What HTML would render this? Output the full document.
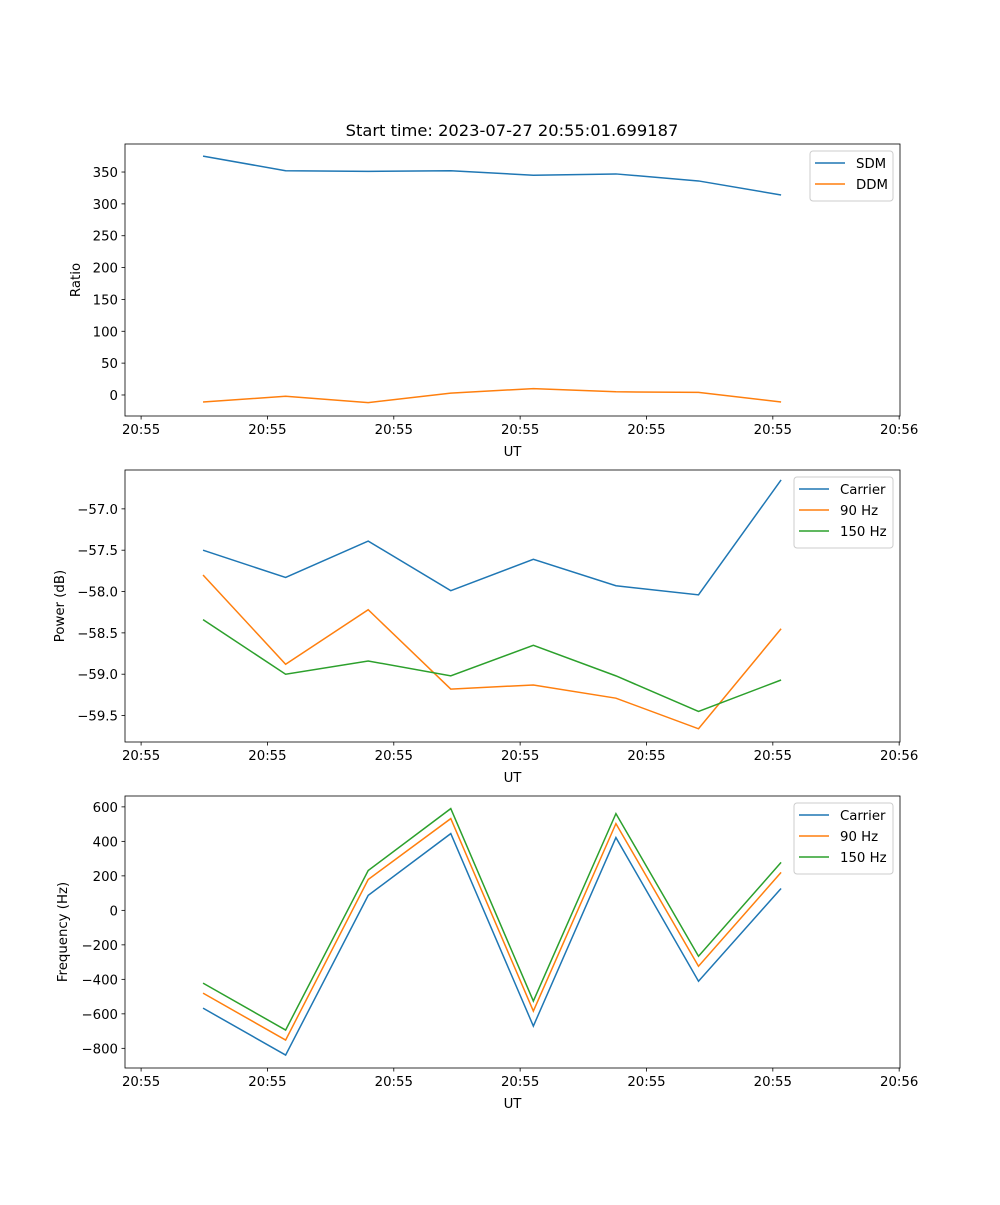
<!DOCTYPE html>
<html><head><meta charset="utf-8"><style>
body{margin:0;background:#fff}
svg text{font-family:"DejaVu Sans","Liberation Sans",sans-serif;fill:#000}
</style></head><body>
<svg id="fig" width="1000" height="1200" xmlns="http://www.w3.org/2000/svg"></svg>
<script>
const xIndex=[0,1,2,3,4,5,6,7];
const xTickPos=[-0.75,0.78,2.31,3.84,5.37,6.90,8.43];
const xTickLabels=["20:55","20:55","20:55","20:55","20:55","20:55","20:56"];
const sdm=[375,352,351,352,345,347,336,314];
const ddm=[-11,-2,-12,3,10,5,4,-11];
const ratioTicks=[0,50,100,150,200,250,300,350];
const pCarrier=[-57.5,-57.83,-57.39,-57.99,-57.61,-57.93,-58.04,-56.65];
const p90=[-57.80,-58.88,-58.22,-59.18,-59.13,-59.29,-59.66,-58.45];
const p150=[-58.34,-59.0,-58.84,-59.02,-58.65,-59.02,-59.45,-59.07];
const powerTicks=[-59.5,-59.0,-58.5,-58.0,-57.5,-57.0];
const fCarrier=[-567,-839,87,445,-671,422,-411,127];
const f90=[-480,-752,179,532,-584,503,-324,220];
const f150=[-422,-694,231,590,-526,561,-266,278];
const freqTicks=[-800,-600,-400,-200,0,200,400,600];

const NS="http://www.w3.org/2000/svg";
const svg=document.getElementById('fig');
function el(tag,attrs,parent){const e=document.createElementNS(NS,tag);for(const k in attrs)e.setAttribute(k,attrs[k]);(parent||svg).appendChild(e);return e;}
const L=125,R=900;
const xmin=-0.945,xmax=8.44;
function xs(v){return L+(v-xmin)/(xmax-xmin)*(R-L);}
const C=['#1f77b4','#ff7f0e','#2ca02c'];
const FS=13.3;

function panel(name,top,bot,ymin,ymax,ticks,fmt,ylabel,series,labels,legendW){
  const g=el('g',{});
  
  
  const ys=v=>bot-(v-ymin)/(ymax-ymin)*(bot-top);
  series.forEach((s,i)=>{
    const p=el('polyline',{points:s.map((v,j)=>xs(xIndex[j])+','+ys(v)).join(' '),fill:'none',stroke:C[i],'stroke-width':1.5},g);
    
    
  });
  el('rect',{x:L,y:top,width:R-L,height:bot-top,fill:'none',stroke:'#000','stroke-width':0.8},g);
  xTickPos.forEach((t,i)=>{
    const x=xs(t);
    el('line',{x1:x,x2:x,y1:bot,y2:bot+3.5,stroke:'#000','stroke-width':0.8},g);
    const tx=el('text',{x:x,y:bot+18,'text-anchor':'middle','font-size':FS},g);tx.textContent=xTickLabels[i];
    
    
  });
  ticks.forEach(t=>{
    const y=ys(t);
    el('line',{x1:L-3.5,x2:L,y1:y,y2:y,stroke:'#000','stroke-width':0.8},g);
    const tx=el('text',{x:L-7,y:y+5,'text-anchor':'end','font-size':FS},g);tx.textContent=fmt(t).replace('-','\u2212');
    
    
  });
  const xl=el('text',{x:(L+R)/2,y:bot+40,'text-anchor':'middle','font-size':FS},g);xl.textContent='UT';
  
  
  const yl=el('text',{x:0,y:0,'text-anchor':'middle','font-size':FS,transform:`translate(${ylabel[1]},${(top+bot)/2}) rotate(-90)`},g);yl.textContent=ylabel[0];
  
  
  const lx=R-7-legendW,ly=top+7,lh=8+21*labels.length;
  const lg=el('g',{},g);
  
  
  el('rect',{x:lx,y:ly,width:legendW,height:lh,rx:3,fill:'#fff','fill-opacity':0.8,stroke:'#ccc'},lg);
  labels.forEach((lab,i)=>{
    const yy=ly+12+21*i;
    el('line',{x1:lx+5,x2:lx+35,y1:yy,y2:yy,stroke:C[i],'stroke-width':1.5},lg);
    const t=el('text',{x:lx+46,y:yy+5,'font-size':FS},lg);t.textContent=lab;
    
    
  });
}
const title=el('text',{x:512,y:136,'text-anchor':'middle','font-size':16.3});title.textContent='Start time: 2023-07-27 20:55:01.699187';


panel('ratio',144,416,-33,394,ratioTicks,v=>String(v),['Ratio',80],[sdm,ddm],['SDM','DDM'],83);
panel('power',470,742,-59.82,-56.53,powerTicks,v=>v.toFixed(1),['Power (dB)',64],[pCarrier,p90,p150],['Carrier','90 Hz','150 Hz'],99);
panel('frequency',796,1068,-914,663,freqTicks,v=>String(v),['Frequency (Hz)',67],[fCarrier,f90,f150],['Carrier','90 Hz','150 Hz'],99);
</script>
</body></html>
